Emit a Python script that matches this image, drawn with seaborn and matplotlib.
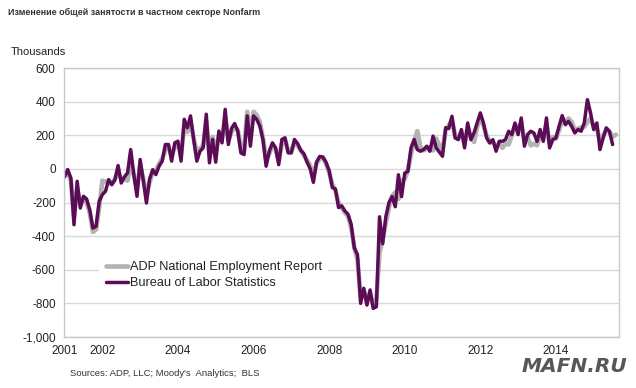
import numpy as np
import pandas as pd
import matplotlib
matplotlib.use("Agg")
import matplotlib.pyplot as plt
from matplotlib.ticker import FuncFormatter, MultipleLocator, FixedLocator
import seaborn as sns

# monthly change, thousands, Jan 2001 onwards
bls = [
    -48, -4, -54, -332, -74, -233, -163, -179, -243, -352, -342, -193,      # 2001
    -153, -133, -64, -94, -64, 20, -84, -48, -24, 115, -34, -163,           # 2002
    56, -70, -203, -60, -5, -34, 16, 46, 145, 145, 46, 155,                 # 2003
    165, 46, 295, 245, 315, 175, 46, 105, 125, 325, 36, 175,                # 2004
    40, 225, 155, 354, 145, 240, 270, 225, 95, 85, 315, 135,                # 2005
    315, 295, 255, 175, 16, 105, 155, 125, 25, 175, 185, 95,                # 2006
    95, 175, 150, 110, 90, 40, 0, -80, 40, 74, 70, 40,                      # 2007
    -10, -110, -120, -230, -220, -250, -270, -330, -470, -510, -800, -710,  # 2008
    -810, -720, -830, -820, -285, -445, -285, -200, -165, -225, -35, -165,  # 2009
    -25, -15, 125, 175, 115, 105, 115, 135, 105, 195, 125, 100,             # 2010
    75, 245, 240, 313, 184, 174, 234, 125, 273, 174, 214, 273,              # 2011
    333, 273, 184, 154, 174, 105, 164, 164, 174, 224, 204, 273,             # 2012
    204, 303, 135, 204, 224, 214, 164, 234, 164, 303, 125, 174,             # 2013
    184, 253, 317, 263, 283, 253, 214, 234, 224, 273, 412, 333,             # 2014
    234, 273, 115, 184, 244, 224, 145,                                      # 2015
]
adp = [
    -40, -20, -70, -280, -120, -200, -180, -200, -260, -375, -360, -230,
    -70, -75, -80, -90, -60, -20, -60, -60, -70, 40, -40, -120,
    20, -60, -150, -80, -20, -10, 30, 60, 110, 130, 80, 130,
    150, 90, 250, 220, 280, 180, 100, 120, 140, 280, 90, 190,
    100, 200, 180, 300, 170, 220, 250, 230, 120, 110, 340, 200,
    340, 320, 280, 180, 60, 90, 140, 120, 50, 150, 170, 110,
    110, 150, 140, 110, 80, 50, 20, -40, 30, 60, 70, 30,
    -20, -90, -130, -200, -230, -260, -280, -350, -470, -540, -760, -720,
    -790, -740, -810, -780, -500, -420, -320, -230, -160, -140, -180, -70,
    -60, -10, 90, 160, 225, 130, 110, 120, 130, 110, 180, 140,
    110, 230, 260, 290, 200, 180, 220, 150, 250, 190, 160, 250,
    300, 260, 200, 160, 160, 130, 150, 125, 150, 145, 200, 250,
    250, 270, 170, 190, 140, 150, 140, 200, 180, 260, 150, 190,
    180, 230, 290, 280, 300, 280, 230, 240, 245, 250, 280, 300,
    250, 240, 170, 200, 230, 220, 190, 204,
]
year_ticks = [2001, 2002, 2004, 2006, 2008, 2010, 2012, 2014]
y_ticks = [-1000, -800, -600, -400, -200, 0, 200, 400, 600]

def decimal_years(n):
    d = pd.date_range("2001-01-01", periods=n, freq="MS")
    return d.year + (d.month - 1) / 12

df_bls = pd.DataFrame({"x": decimal_years(len(bls)), "v": bls})
df_adp = pd.DataFrame({"x": decimal_years(len(adp)), "v": adp})

sns.set_style("white")
plt.rcParams["font.family"] = ["Liberation Sans", "DejaVu Sans"]

fig = plt.figure(figsize=(6.36, 3.88), dpi=100)
ax = fig.add_axes([0.1006, 0.1314, 0.8727, 0.6933])

sns.lineplot(data=df_adp, x="x", y="v", ax=ax, color="#b3b3b3", linewidth=3.3,
             label="ADP National Employment Report")
sns.lineplot(data=df_bls, x="x", y="v", ax=ax, color="#5c0c56", linewidth=2.5,
             label="Bureau of Labor Statistics")

ax.set_xlim(2000.985, 2015.67)
ax.set_ylim(-1000, 600)
ax.yaxis.set_major_locator(FixedLocator(y_ticks))
ax.yaxis.set_major_formatter(FuncFormatter(lambda v, p: f"{v:,.0f}"))
ax.xaxis.set_major_locator(FixedLocator(year_ticks))
ax.xaxis.set_major_formatter(FuncFormatter(lambda v, p: f"{int(round(v))}"))
ax.xaxis.set_minor_locator(MultipleLocator(0.25))
ax.set_xlabel("")
ax.set_ylabel("")

ax.yaxis.grid(True, color="#d9d9d9", linewidth=1)
ax.set_axisbelow(True)
for s in ax.spines.values():
    s.set_color("#c8c8c8")
    s.set_linewidth(1)
ax.tick_params(axis="y", length=0, labelsize=8.5, colors="#222222", pad=6)
ax.tick_params(axis="x", which="both", direction="inout", length=5,
               color="#b0b0b0", labelsize=8.5, labelcolor="#222222", pad=3)

leg = ax.legend(loc="lower left", bbox_to_anchor=(0.052, 0.13), frameon=True,
                facecolor="white", edgecolor="none", framealpha=1,
                fontsize=9.2, handlelength=1.75, handletextpad=0.15,
                labelspacing=0.3, borderpad=0.5)
for t in leg.get_texts():
    t.set_color("#222222")

fig.text(8 / 636, 1 - 12 / 388, "Изменение общей занятости в частном секторе Nonfarm",
         fontsize=6.5, fontweight="bold", color="#333333", va="center", ha="left")
fig.text(11 / 636, 1 - 52 / 388, "Thousands", fontsize=8, color="#222222",
         va="center", ha="left")
fig.text(70 / 636, 1 - 374 / 388, "Sources: ADP, LLC; Moody's  Analytics;  BLS",
         fontsize=6.8, color="#333333", va="center", ha="left")
fig.text(574 / 636, 1 - 367 / 388, "MAFN.RU", fontsize=14.5, fontweight="bold",
         fontstyle="italic", color="#3a3a3a", alpha=0.85, va="center", ha="center",
         family=["DejaVu Sans"])

fig.savefig("out.png", dpi=100)
